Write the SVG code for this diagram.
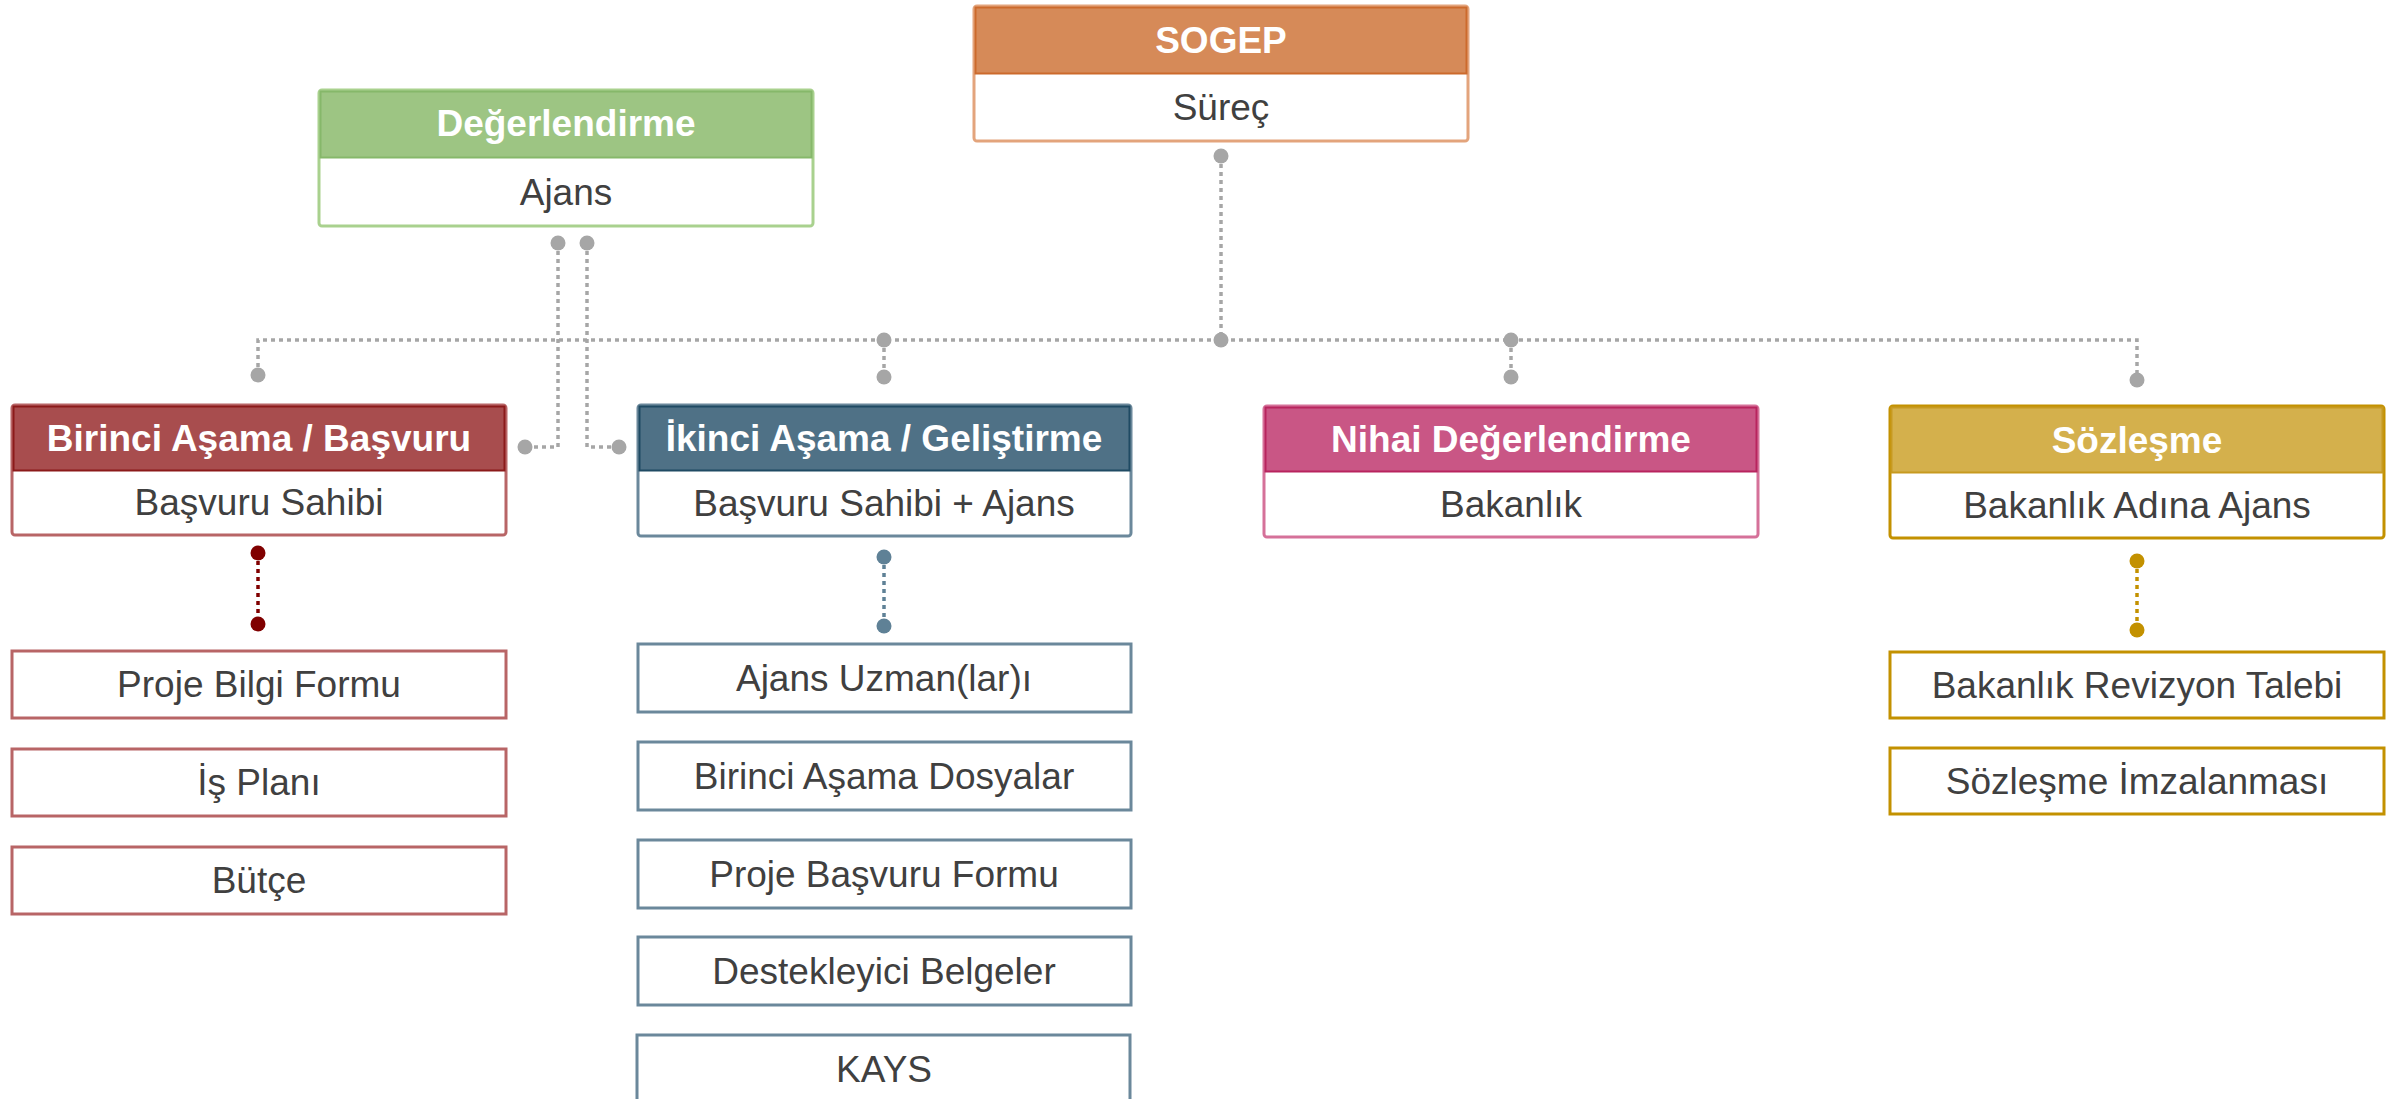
<svg xmlns="http://www.w3.org/2000/svg" width="2394" height="1099" viewBox="0 0 2394 1099">
<style>
.hd{font-family:"Liberation Sans",Arial,sans-serif;font-weight:bold;font-size:37px;fill:#ffffff;text-anchor:middle}
.bd{font-family:"Liberation Sans",Arial,sans-serif;font-size:37px;fill:#404040;text-anchor:middle}
.gl{stroke:#a6a6a6;stroke-width:3.5;stroke-dasharray:4 4;fill:none}
.gd{fill:#a6a6a6}
.sub{fill:#ffffff;stroke-width:3}
</style>
<rect width="2394" height="1099" fill="#ffffff"/>
<g id="connectors">
  <path class="gl" d="M1221 156 V340"/>
  <path class="gl" d="M258 375 V340 H2137 V380"/>
  <path class="gl" d="M884 340 V377"/>
  <path class="gl" d="M1511 340 V377"/>
  <path class="gl" d="M558 243 V447 H525"/>
  <path class="gl" d="M587 243 V447 H619"/>
  <circle class="gd" cx="1221" cy="156" r="7.5"/>
  <circle class="gd" cx="1221" cy="340" r="7.5"/>
  <circle class="gd" cx="884" cy="340" r="7.5"/>
  <circle class="gd" cx="1511" cy="340" r="7.5"/>
  <circle class="gd" cx="258" cy="375" r="7.5"/>
  <circle class="gd" cx="884" cy="377" r="7.5"/>
  <circle class="gd" cx="1511" cy="377" r="7.5"/>
  <circle class="gd" cx="2137" cy="380" r="7.5"/>
  <circle class="gd" cx="558" cy="243" r="7.5"/>
  <circle class="gd" cx="587" cy="243" r="7.5"/>
  <circle class="gd" cx="525" cy="447" r="7.5"/>
  <circle class="gd" cx="619" cy="447" r="7.5"/>
  <path d="M258 553 V624" stroke="#800000" stroke-width="3.5" stroke-dasharray="4 4"/>
  <circle cx="258" cy="553" r="7.5" fill="#800000"/>
  <circle cx="258" cy="624" r="7.5" fill="#800000"/>
  <path d="M884 557 V626" stroke="#5f8196" stroke-width="3.5" stroke-dasharray="4 4"/>
  <circle cx="884" cy="557" r="7.5" fill="#5f8196"/>
  <circle cx="884" cy="626" r="7.5" fill="#5f8196"/>
  <path d="M2137 561 V630" stroke="#c39100" stroke-width="3.5" stroke-dasharray="4 4"/>
  <circle cx="2137" cy="561" r="7.5" fill="#c39100"/>
  <circle cx="2137" cy="630" r="7.5" fill="#c39100"/>
</g>
<g id="sogep">
  <rect x="974" y="6" width="494" height="135" rx="3" fill="#ffffff" stroke="#e3a47c" stroke-width="3"/>
  <rect x="975.5" y="7.5" width="491" height="66" fill="#d68a58" stroke="#cc6a2c" stroke-width="2"/>
  <text class="hd" x="1221" y="53">SOGEP</text>
  <text class="bd" x="1221" y="120">Süreç</text>
</g>
<g id="degerlendirme">
  <rect x="319" y="90" width="494" height="136" rx="3" fill="#ffffff" stroke="#a9d18e" stroke-width="3"/>
  <rect x="320.5" y="91.5" width="491" height="66" fill="#9dc583" stroke="#86b86a" stroke-width="2"/>
  <text class="hd" x="566" y="136">Değerlendirme</text>
  <text class="bd" x="566" y="205">Ajans</text>
</g>
<g id="birinci">
  <rect x="12" y="405" width="494" height="130" rx="3" fill="#ffffff" stroke="#b86566" stroke-width="3"/>
  <rect x="13.5" y="406.5" width="491" height="64" fill="#a84d4e" stroke="#8b1a1a" stroke-width="2"/>
  <text class="hd" x="259" y="451">Birinci Aşama / Başvuru</text>
  <text class="bd" x="259" y="515">Başvuru Sahibi</text>
</g>
<g id="ikinci">
  <rect x="638" y="405" width="493" height="131" rx="3" fill="#ffffff" stroke="#6b889b" stroke-width="3"/>
  <rect x="639.5" y="406.5" width="490" height="64" fill="#4f7186" stroke="#1f4a63" stroke-width="2"/>
  <text class="hd" x="884" y="451">İkinci Aşama / Geliştirme</text>
  <text class="bd" x="884" y="516">Başvuru Sahibi + Ajans</text>
</g>
<g id="nihai">
  <rect x="1264" y="406" width="494" height="131" rx="3" fill="#ffffff" stroke="#d57199" stroke-width="3"/>
  <rect x="1265.5" y="407.5" width="491" height="64" fill="#c95685" stroke="#b8245e" stroke-width="2"/>
  <text class="hd" x="1511" y="452">Nihai Değerlendirme</text>
  <text class="bd" x="1511" y="517">Bakanlık</text>
</g>
<g id="sozlesme">
  <rect x="1890" y="406" width="494" height="132" rx="3" fill="#ffffff" stroke="#c39100" stroke-width="3"/>
  <rect x="1891.5" y="407.5" width="491" height="65" fill="#d4b04c" stroke="#c79a20" stroke-width="2"/>
  <text class="hd" x="2137" y="453">Sözleşme</text>
  <text class="bd" x="2137" y="518">Bakanlık Adına Ajans</text>
</g>
<g id="proje-bilgi-formu">
  <rect class="sub" x="12" y="651" width="494" height="67" stroke="#b86566"/>
  <text class="bd" x="259" y="697">Proje Bilgi Formu</text>
</g>
<g id="is-plani">
  <rect class="sub" x="12" y="749" width="494" height="67" stroke="#b86566"/>
  <text class="bd" x="259" y="795">İş Planı</text>
</g>
<g id="butce">
  <rect class="sub" x="12" y="847" width="494" height="67" stroke="#b86566"/>
  <text class="bd" x="259" y="893">Bütçe</text>
</g>
<g id="ajans-uzmanlari">
  <rect class="sub" x="638" y="644" width="493" height="68" stroke="#6b889b"/>
  <text class="bd" x="884" y="691">Ajans Uzman(lar)ı</text>
</g>
<g id="birinci-asama-dosyalar">
  <rect class="sub" x="638" y="742" width="493" height="68" stroke="#6b889b"/>
  <text class="bd" x="884" y="789">Birinci Aşama Dosyalar</text>
</g>
<g id="proje-basvuru-formu">
  <rect class="sub" x="638" y="840" width="493" height="68" stroke="#6b889b"/>
  <text class="bd" x="884" y="887">Proje Başvuru Formu</text>
</g>
<g id="destekleyici-belgeler">
  <rect class="sub" x="638" y="937" width="493" height="68" stroke="#6b889b"/>
  <text class="bd" x="884" y="984">Destekleyici Belgeler</text>
</g>
<g id="kays">
  <rect class="sub" x="637" y="1035" width="493" height="68" stroke="#6b889b"/>
  <text class="bd" x="884" y="1082">KAYS</text>
</g>
<g id="bakanlik-revizyon-talebi">
  <rect class="sub" x="1890" y="652" width="494" height="66" stroke="#c39100"/>
  <text class="bd" x="2137" y="698">Bakanlık Revizyon Talebi</text>
</g>
<g id="sozlesme-imzalanmasi">
  <rect class="sub" x="1890" y="748" width="494" height="66" stroke="#c39100"/>
  <text class="bd" x="2137" y="794">Sözleşme İmzalanması</text>
</g>
</svg>
